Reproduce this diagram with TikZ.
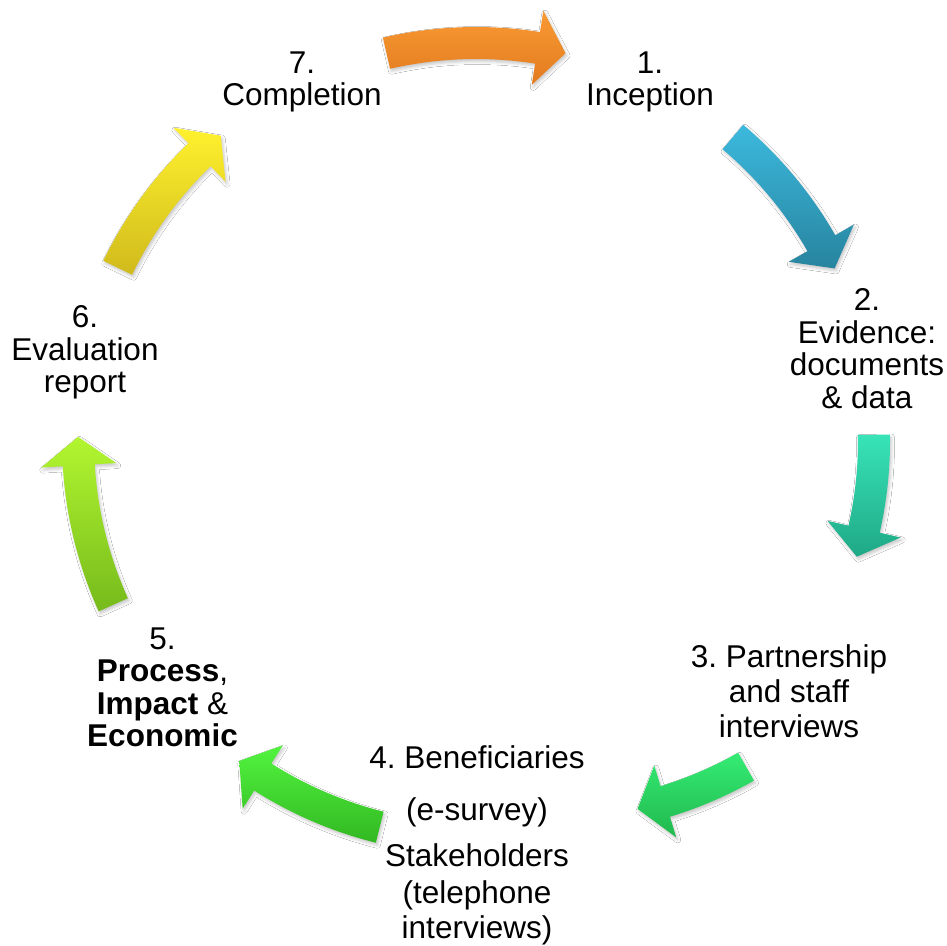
\documentclass[tikz,border=0pt]{standalone}
\usepackage{fontspec}
\setmainfont{Liberation Sans}
\frenchspacing
\usetikzlibrary{shadows.blur}

% arrow colours (light top / dark bottom)
\definecolor{orangeT}{HTML}{F99A33}
\definecolor{orangeB}{HTML}{E27B1F}
\definecolor{blueT}{HTML}{3CB9DD}
\definecolor{blueB}{HTML}{27849F}
\definecolor{tealT}{HTML}{38E4B8}
\definecolor{tealB}{HTML}{1FA886}
\definecolor{greenT}{HTML}{34EC74}
\definecolor{greenB}{HTML}{21B84D}
\definecolor{limeT}{HTML}{52F43F}
\definecolor{limeB}{HTML}{32B822}
\definecolor{yelgrT}{HTML}{B2F630}
\definecolor{yelgrB}{HTML}{76BA1C}
\definecolor{yellowT}{HTML}{FFF12E}
\definecolor{yellowB}{HTML}{D0BA1C}

\tikzset{
  lbl/.style={font=\fontsize{31.5}{32.5}\selectfont, align=center,
    inner sep=0pt, anchor=north, text=black},
  arrowshape/.style={blur shadow={shadow xshift=1.5pt, shadow yshift=-2.5pt,
    shadow blur radius=3pt, shadow opacity=22}},
}

% curved block arrow along a circle:
% #1 centre, #2 radius, #3 start angle, #4 end angle, #5 top colour, #6 bottom colour
\newcommand{\cyclearrow}[6]{%
  \begin{scope}[shift={#1}]
    \pgfmathsetmacro{\ro}{#2+16}
    \pgfmathsetmacro{\ri}{#2-16}
    \pgfmathsetmacro{\ho}{#2+37.5}
    \pgfmathsetmacro{\hi}{#2-37.5}
    \pgfmathsetmacro{\hb}{#4-4.1}
    \path[arrowshape, top color=#5, bottom color=#6]
      (#3:\ro) arc[start angle=#3, end angle=\hb, radius=\ro]
      -- (\hb:\ho) -- (#4:#2) -- (\hb:\hi) -- (\hb:\ri)
      arc[start angle=\hb, end angle=#3, radius=\ri] -- cycle;
  \end{scope}}

\begin{document}
\begin{tikzpicture}[x=1pt, y=-1pt]
  \fill[white] (0,0) rectangle (947,945);
  \useasboundingbox (0,0) rectangle (947,945);

  % arrows of the cycle
  \cyclearrow{(476,441)}{398}{-103}{-77}{orangeT}{orangeB}
  \cyclearrow{(476,441)}{398}{-49.8}{-25.7}{blueT}{blueB}
  \cyclearrow{(476,441)}{398}{-0.9}{16.9}{tealT}{tealB}
  \cyclearrow{(548,418)}{401}{60.4}{77.1}{greenT}{greenB}
  \cyclearrow{(476,441)}{398}{104}{126.5}{limeT}{limeB}
  \cyclearrow{(476,441)}{398}{155.7}{180.6}{yelgrT}{yelgrB}
  \cyclearrow{(476,441)}{398}{205.8}{230.1}{yellowT}{yellowB}

  % stages
  \node[lbl] (s1) at (650,51.5) {1.\\Inception};
  \node[lbl] (s2) at (867,288.7) {2.\\Evidence:\\documents\\\& data};
  \node[lbl] (s3) at (789,644) {3. Partnership\\[2.5pt]and staff\\[2.5pt]interviews};
  \node[lbl] (s4) at (477,745) {4. Beneficiaries\\[19.8pt](e-survey)\\[13.5pt]Stakeholders\\[4.8pt](telephone\\[1.9pt]interviews)};
  \node[lbl] (s5) at (162.5,627.4) {5.\\\textbf{Process},\\\textbf{Impact} \&\\\textbf{Economic}};
  \node[lbl] (s6) at (85,305.5) {6.\\Evaluation\\report};
  \node[lbl] (s7) at (302,51.5) {7.\\Completion};
\end{tikzpicture}
\end{document}
